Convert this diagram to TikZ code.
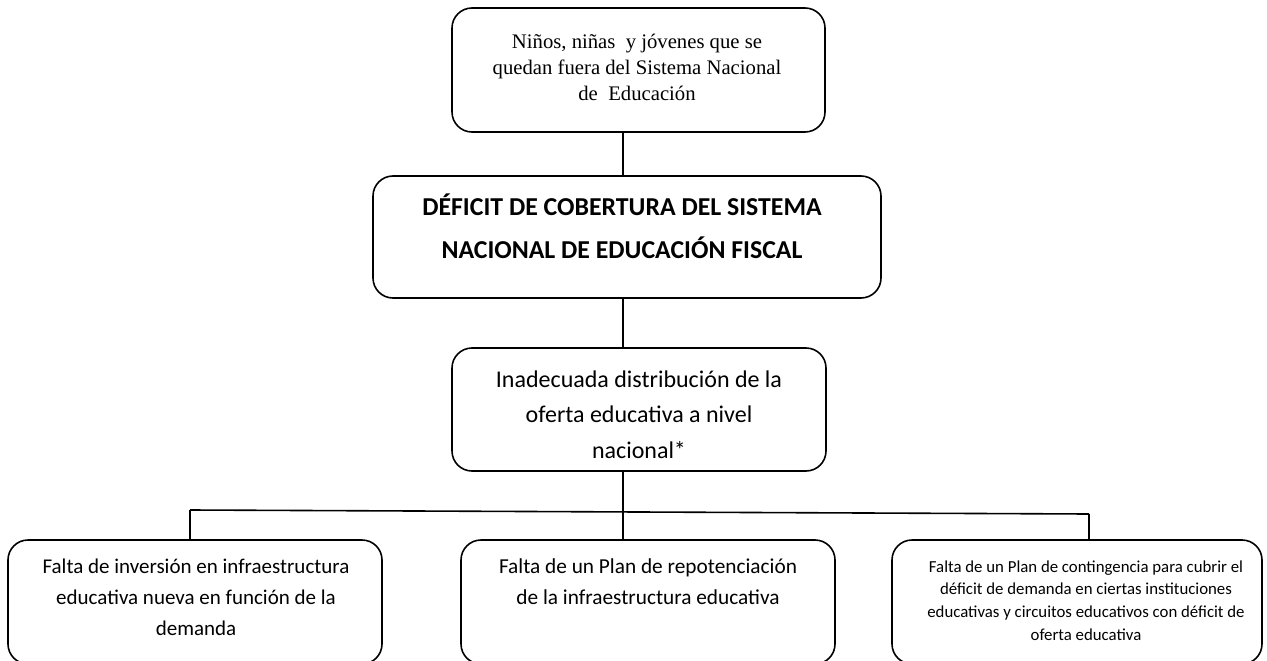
\documentclass[tikz,border=0pt]{standalone}
\usepackage{fontspec}
\setmainfont{Carlito}
\newfontfamily\timesf{Liberation Serif}
\newfontfamily\calf{Carlito}
\begin{document}
\begin{tikzpicture}[x=1pt,y=-1pt,
  box/.style={draw=black,line width=1.6pt,rounded corners=20pt,rectangle,inner sep=0pt},
  conn/.style={draw=black,line width=1.6pt},
  txt/.style={inner sep=0pt,anchor=north,align=center}]
\useasboundingbox (0,0) rectangle (1267,661);
\clip (0,0) rectangle (1267,661);
\fill[white] (0,0) rectangle (1267,661);
% boxes
\node[box,minimum width=373pt,minimum height=124pt] (top) at (638.5,70) {};
\node[box,minimum width=508pt,minimum height=122pt] (mid) at (627,237) {};
\node[box,minimum width=374pt,minimum height=123pt] (third) at (639,409.5) {};
\node[box,minimum width=374pt,minimum height=124pt] (bl) at (195,602) {};
\node[box,minimum width=374pt,minimum height=124pt] (bm) at (648,602) {};
\node[box,minimum width=370pt,minimum height=124pt] (br) at (1077,602) {};
% texts
\node[txt,font=\timesf\fontsize{20.7}{26}\selectfont] (t1) at (637,29.8)
  {\strut Niños, niñas\ \ y jóvenes que se\\quedan fuera del Sistema Nacional\\de\ \ Educación};
\node[txt,font=\calf\bfseries\fontsize{25.8}{43}\selectfont] (t2) at (622,184.9)
  {\strut DÉFICIT DE COBERTURA DEL SISTEMA\\NACIONAL DE EDUCACIÓN FISCAL};
\node[txt,font=\calf\fontsize{24}{35.5}\selectfont] (t3) at (639,362)
  {\strut Inadecuada distribución de la\\oferta educativa a nivel\\nacional*};
\node[txt,font=\calf\fontsize{21}{31}\selectfont] (t4) at (196,551.3)
  {\strut Falta de inversión en infraestructura\\educativa nueva en función de la\\demanda};
\node[txt,font=\calf\fontsize{21.3}{31}\selectfont] (t5) at (648,551.3)
  {\strut Falta de un Plan de repotenciación\\de la infraestructura educativa};
\node[txt,font=\calf\fontsize{16.8}{22.7}\selectfont] (t6) at (1086,556)
  {\strut Falta de un Plan de contingencia para cubrir el\\déficit de demanda en ciertas instituciones\\educativas y circuitos educativos con déficit de\\oferta educativa};
% connectors
\coordinate (spine) at (623,0);
\coordinate (hl) at (190,510);
\coordinate (hr) at (1089,514);
\draw[conn] (top.south -| spine) -- (mid.north -| spine);
\draw[conn] (mid.south -| spine) -- (third.north -| spine);
\draw[conn] (third.south -| spine) -- (bm.north -| spine);
\draw[conn] (hl) -- (hr);
\draw[conn] (hl) -- (bl.north -| hl);
\draw[conn] (hr) -- (br.north -| hr);
\end{tikzpicture}
\end{document}
